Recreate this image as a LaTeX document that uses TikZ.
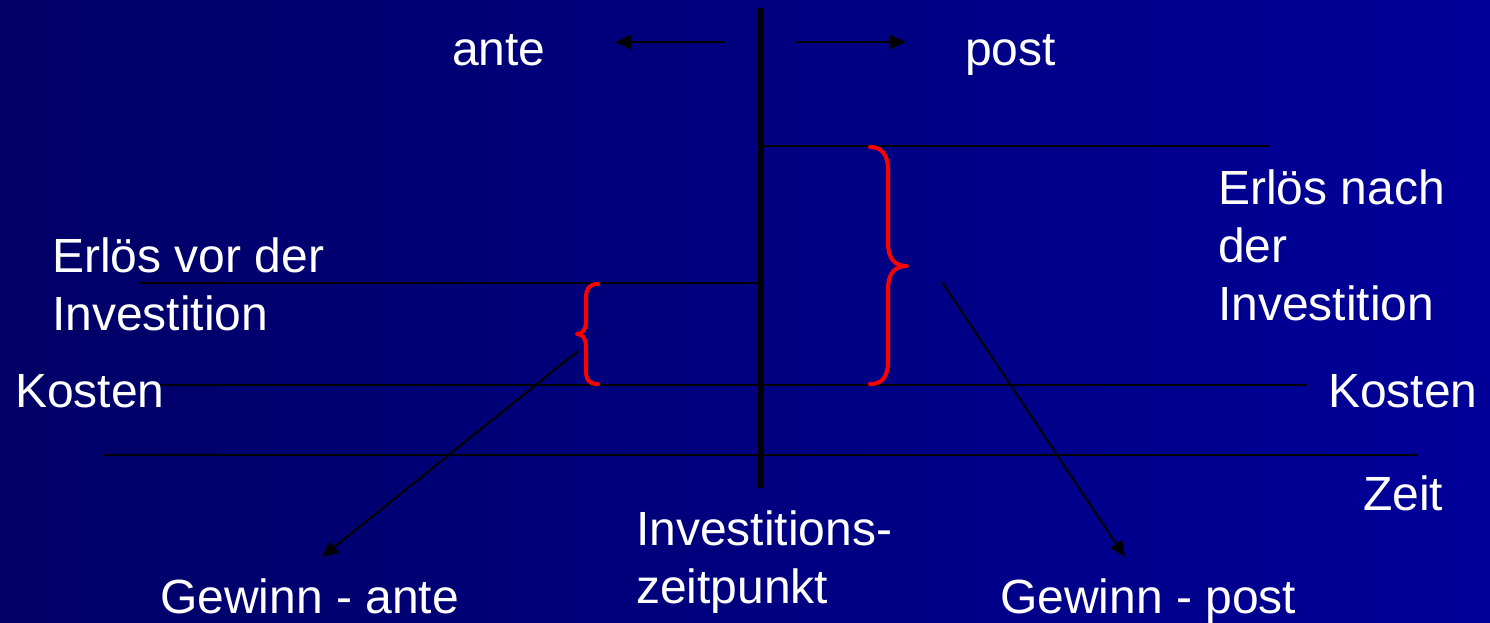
\documentclass[tikz,border=0pt]{standalone}
\usepackage{fontspec}
\setmainfont{Liberation Sans}
\usetikzlibrary{arrows.meta}
\definecolor{bgleft}{HTML}{000066}
\definecolor{bgright}{HTML}{000099}
\definecolor{bracered}{HTML}{FF0000}
\tikzset{
  lbl/.style={text=white, font=\fontsize{48}{58}\selectfont, inner sep=0pt, anchor=base west, align=left},
  thinline/.style={draw=black, line width=2pt},
  axis/.style={draw=black, line width=6pt},
  arr/.style={draw=black, line width=2pt, -{Triangle[length=16pt,width=14pt]}},
  brace/.style={draw=bracered, line width=4pt, line cap=round, line join=round},
}
\begin{document}
\begin{tikzpicture}[x=1pt,y=-1pt]
\shade[left color=bgleft,right color=bgright] (0,0) rectangle (1490,622);
\useasboundingbox (0,0) rectangle (1490,622);
% coordinates
\coordinate (vtop) at (761,8);
\coordinate (vbot) at (761,488);
\coordinate (la0) at (725,42); \coordinate (la1) at (615,42);
\coordinate (ra0) at (796,42); \coordinate (ra1) at (906,42);
\coordinate (h1a) at (761,146); \coordinate (h1b) at (1270,146);
\coordinate (h2a) at (140,283); \coordinate (h2b) at (761,283);
\coordinate (h3a) at (160,385); \coordinate (h3b) at (1307,385);
\coordinate (h4a) at (103,455); \coordinate (h4b) at (1418,455);
\coordinate (ga0) at (578,351); \coordinate (ga1) at (322,557);
\coordinate (gp0) at (942,282); \coordinate (gp1) at (1125,557);
% lines
\draw[thinline] (h1a) -- (h1b);
\draw[thinline] (h2a) -- (h2b);
\draw[thinline] (h3a) -- (h3b);
\draw[thinline] (h4a) -- (h4b);
\draw[axis] (vtop) -- (vbot);
\draw[arr] (la0) -- (la1);
\draw[arr] (ra0) -- (ra1);
\draw[arr] (ga0) -- (ga1);
\draw[arr] (gp0) -- (gp1);
% braces
\draw[brace] (598,284) .. controls (589,284) and (586,289) .. (586,298)
  -- (586,321) .. controls (586,329) and (583,334) .. (577,334)
  .. controls (583,334) and (586,339) .. (586,347)
  -- (586,371) .. controls (586,380) and (589,384) .. (598,384);
\draw[brace] (870,147) .. controls (882,147) and (888,155) .. (888,170)
  -- (888,243) .. controls (888,259) and (895,266) .. (907,266)
  .. controls (895,266) and (888,273) .. (888,289)
  -- (888,361) .. controls (888,377) and (882,384) .. (870,384);
% texts (base anchor = baseline of last line)
\node[lbl] (ante) at (452,65) {ante};
\node[lbl] (post) at (965,65) {post};
\node[lbl] (evor) at (52,330) {Erlös vor der\\Investition};
\node[lbl] (enach) at (1218,320) {Erlös nach\\der\\Investition};
\node[lbl] (kl) at (15,407) {Kosten};
\node[lbl] (kr) at (1328,407) {Kosten};
\node[lbl] (zeit) at (1363,510) {Zeit};
\node[lbl] (izp) at (636,603) {Investitions-\\zeitpunkt};
\node[lbl] (gante) at (160,613) {Gewinn - ante};
\node[lbl] (gpost) at (1000,613) {Gewinn - post};
\end{tikzpicture}
\end{document}
